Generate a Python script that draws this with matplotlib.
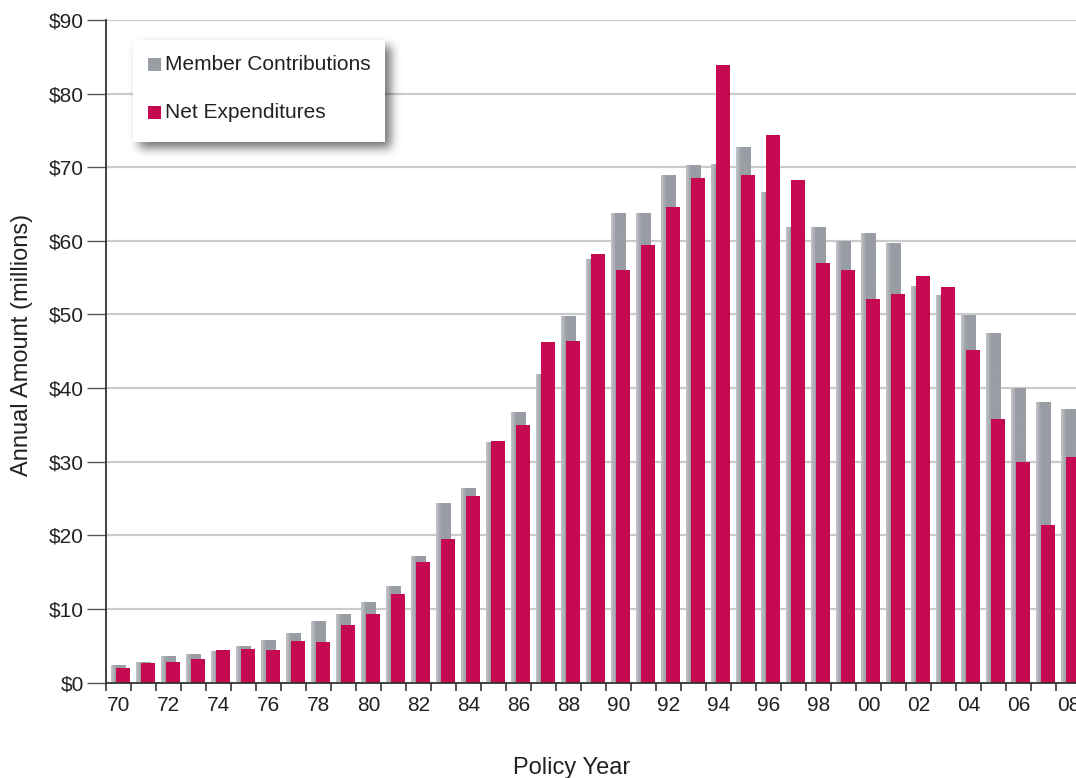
import numpy as np
import matplotlib
matplotlib.use("Agg")
import matplotlib.pyplot as plt
from matplotlib.patches import Rectangle

plt.rcParams['font.family'] = ['Liberation Sans', 'DejaVu Sans']

# ---- data -------------------------------------------------------------
years = list(range(1970, 2009))
year_labels = ["70", "72", "74", "76", "78", "80", "82", "84", "86", "88",
               "90", "92", "94", "96", "98", "00", "02", "04", "06", "08"]
member_contributions = [2.2, 2.6, 3.4, 3.7, 4.1, 4.8, 5.6, 6.6, 8.2, 9.2,
                        10.8, 13.0, 17.1, 24.3, 26.3, 32.5, 36.6, 41.8, 49.6, 57.4,
                        63.7, 63.7, 68.8, 70.2, 70.3, 72.6, 66.5, 61.8, 61.8, 59.8,
                        60.9, 59.6, 53.7, 52.5, 49.8, 47.3, 39.9, 38.0, 37.0]
net_expenditures = [2.0, 2.6, 2.8, 3.2, 4.4, 4.5, 4.4, 5.6, 5.5, 7.8,
                    9.3, 12.0, 16.4, 19.5, 25.3, 32.8, 35.0, 46.2, 46.4, 58.2,
                    56.0, 59.4, 64.6, 68.6, 83.9, 69.0, 74.4, 68.2, 57.0, 56.0,
                    52.1, 52.8, 55.2, 53.7, 45.2, 35.8, 30.0, 21.4, 30.6]
y_ticks = [0, 10, 20, 30, 40, 50, 60, 70, 80, 90]
legend_labels = ["Member Contributions", "Net Expenditures"]

GREY = "#999DA4"
GREY_LIGHT = "#C2C5C9"
MAGENTA = "#C60A52"

W, H = 1076, 778
fig = plt.figure(figsize=(W / 100, H / 100), dpi=100)

# axes extends past the right edge of the figure, like a cropped chart
ax_left, ax_bottom = 106, H - 682.5
ax_w, ax_h = 975, 662.5
ax = fig.add_axes([ax_left / W, ax_bottom / H, ax_w / W, ax_h / H])

x = np.array(years, dtype=float)
bar_w = 0.6
shift = 0.18

# grey bars with a soft horizontal gradient
from matplotlib.colors import LinearSegmentedColormap
cmap = LinearSegmentedColormap.from_list("g", [GREY_LIGHT, GREY])
grad = np.clip(np.linspace(0, 1, 60) / 0.35, 0, 1)[None, :]
for xi, v in zip(x, member_contributions):
    x0 = xi - bar_w / 2
    ax.imshow(grad, extent=(x0, x0 + bar_w, 0, v), aspect='auto',
              cmap=cmap, vmin=0, vmax=1, zorder=1, interpolation='bilinear')

ax.bar(x + shift, net_expenditures, width=bar_w, color=MAGENTA, zorder=2,
       linewidth=0)

ax.set_xlim(1969.5, 2008.5)
ax.set_ylim(0, 90)

# grid
ax.set_yticks(y_ticks)
ax.set_yticklabels([f"${v}" for v in y_ticks], fontsize=15, color="#222222")
for v in y_ticks[1:]:
    ax.axhline(v, color="#CBCBCB", lw=1.6, zorder=0.5)

# x ticks at year boundaries, labels centred on every other year
ax.set_xticks(np.arange(1969.5, 2009.5, 1.0))
ax.set_xticklabels([])
ax.set_xticks(years[::2], minor=True)
ax.set_xticklabels(year_labels, minor=True, fontsize=15, color="#222222")
ax.tick_params(axis='x', which='major', direction='out', length=6,
               width=1.2, color="#333333")
ax.tick_params(axis='x', which='minor', length=0, pad=10)
ax.tick_params(axis='y', direction='out', length=14, width=1.0,
               color="#555555", pad=2)

for s in ['top', 'right']:
    ax.spines[s].set_visible(False)
for s in ['left', 'bottom']:
    ax.spines[s].set_color("#333333")
    ax.spines[s].set_linewidth(1.3)

# axis titles
fig.text(22 / W, 1 - 345 / H, "Annual Amount (millions)", rotation=90,
         ha='center', va='center', fontsize=17, color="#222222")
fig.text(572 / W, 4 / H, "Policy Year", ha='center', va='baseline',
         fontsize=17, color="#222222")

# legend box with blurred drop shadow
bx0, by0, bx1, by1 = 133, 40, 385, 142
pad = 30
sx0, sy0 = bx0 - pad, by0 - pad
sw, sh = (bx1 - bx0) + 2 * pad + 10, (by1 - by0) + 2 * pad + 10
mask = np.zeros((sh, sw))
off = 6
mask[pad + off:pad + off + (by1 - by0), pad + off:pad + off + (bx1 - bx0)] = 1.0
k = np.exp(-0.5 * (np.arange(-15, 16) / 5.0) ** 2)
k /= k.sum()
mask = np.apply_along_axis(lambda r: np.convolve(r, k, mode='same'), 1, mask)
mask = np.apply_along_axis(lambda c: np.convolve(c, k, mode='same'), 0, mask)
rgba = np.zeros((sh, sw, 4))
rgba[..., 3] = mask * 0.55
sax = fig.add_axes([sx0 / W, 1 - (sy0 + sh) / H, sw / W, sh / H], zorder=5)
sax.imshow(rgba, aspect='auto', interpolation='bilinear')
sax.axis('off')

lax = fig.add_axes([bx0 / W, 1 - by1 / H, (bx1 - bx0) / W, (by1 - by0) / H],
                   zorder=6)
lax.set_xlim(bx0, bx1)
lax.set_ylim(by1, by0)
lax.axis('off')
lax.add_patch(Rectangle((bx0, by0), bx1 - bx0, by1 - by0, color="white"))
for (cy, col, lab) in [(64.5, GREY, legend_labels[0]),
                       (112.5, MAGENTA, legend_labels[1])]:
    lax.add_patch(Rectangle((148, cy - 6.5), 13, 13, color=col, lw=0))
    lax.text(165, cy + 0.5, lab, fontsize=15, color="#222222",
             ha='left', va='center')

fig.savefig("out.png", dpi=100)
